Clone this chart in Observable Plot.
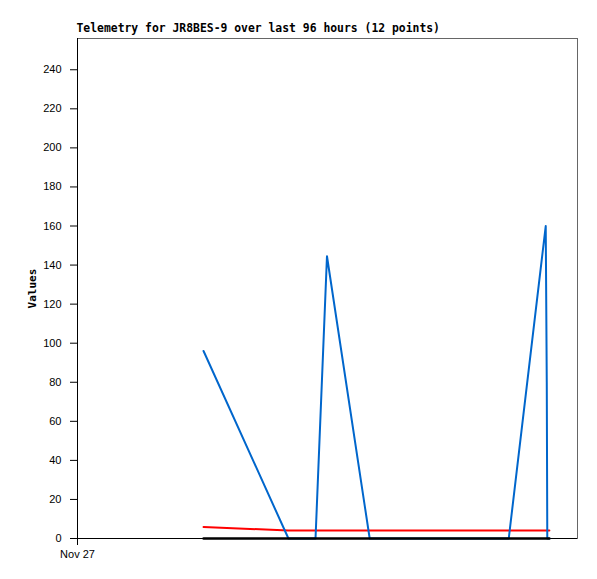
<!DOCTYPE html>
<html><head><meta charset="utf-8">
<script src="https://cdn.jsdelivr.net/npm/d3@7"></script>
<script src="https://cdn.jsdelivr.net/npm/@observablehq/plot@0.6"></script>
<style>body{margin:0;background:#fff}</style>
</head><body><div id="chart"></div>
<script>
const title = "Telemetry for JR8BES-9 over last 96 hours (12 points)";
const yLabel = "Values";
const times = [
  "2023-11-28T00:12Z", "2023-11-28T16:30Z", "2023-11-28T21:42Z", "2023-11-28T23:54Z",
  "2023-11-29T08:06Z", "2023-11-30T10:48Z", "2023-11-30T17:54Z", "2023-11-30T18:06Z",
  "2023-11-30T18:12Z", "2023-11-30T18:36Z"
];
const blueValues = [96, 0, 0, 144.5, 0, 0, 160, 80, 0, 0];
const redValues  = [5.9, 4.1, 4.1, 4.1, 4.1, 4.1, 4.1, 4.1, 4.1, 4.1];
const blackValues = [0, 0, 0, 0, 0, 0, 0, 0, 0, 0];
const yTicks = [0, 20, 40, 60, 80, 100, 120, 140, 160, 180, 200, 220, 240];
const xTicks = ["2023-11-27T00:00Z"];
const xTickLabels = ["Nov 27"];
const xDomain = ["2023-11-27T00:00Z", "2023-12-01T00:00Z"];
const yMax = 256;

const rows = times.map((t, i) => ({t: new Date(t), blue: blueValues[i], red: redValues[i], black: blackValues[i]}));
const xTickDates = xTicks.map(d => new Date(d));
const labelFont = "'Liberation Sans', Arial, sans-serif";
const monoFont = "'DejaVu Sans Mono', monospace";

const chart = Plot.plot({
  width: 597, height: 579,
  marginLeft: 77, marginRight: 20, marginTop: 38, marginBottom: 41,
  style: {fontFamily: labelFont, fontSize: "11px", background: "#fff", color: "#000"},
  x: {type: "utc", domain: xDomain.map(d => new Date(d))},
  y: {domain: [0, yMax]},
  marks: [
    Plot.frame({stroke: "#666"}),
    Plot.ruleX([new Date(xDomain[0])], {stroke: "#000", strokeWidth: 1}),
    Plot.ruleY([0], {stroke: "#000", strokeWidth: 1}),
    Plot.axisY(yTicks, {tickSize: 7, tickPadding: 9, label: null, fontSize: 11}),
    Plot.axisX(xTickDates, {tickSize: 7, tickPadding: 5, label: null, fontSize: 11,
      tickFormat: (d, i) => xTickLabels[i]}),
    Plot.lineY(rows, {x: "t", y: "red", stroke: "#ff0000", strokeWidth: 2}),
    Plot.lineY(rows, {x: "t", y: "blue", stroke: "#0066cc", strokeWidth: 2}),
    Plot.lineY(rows, {x: "t", y: "black", stroke: "#000", strokeWidth: 2.5}),
    Plot.text([title], {frameAnchor: "top-left", dy: -7, dx: -1, lineAnchor: "bottom", textAnchor: "start",
      fontFamily: monoFont, fontWeight: "bold", fontSize: 11.4, fill: "#000"}),
    Plot.text([yLabel], {frameAnchor: "left", dx: -45, rotate: -90, textAnchor: "middle",
      fontFamily: monoFont, fontWeight: "bold", fontSize: 11, fill: "#000"})
  ]
});
document.getElementById("chart").append(chart);
</script>
</body></html>
